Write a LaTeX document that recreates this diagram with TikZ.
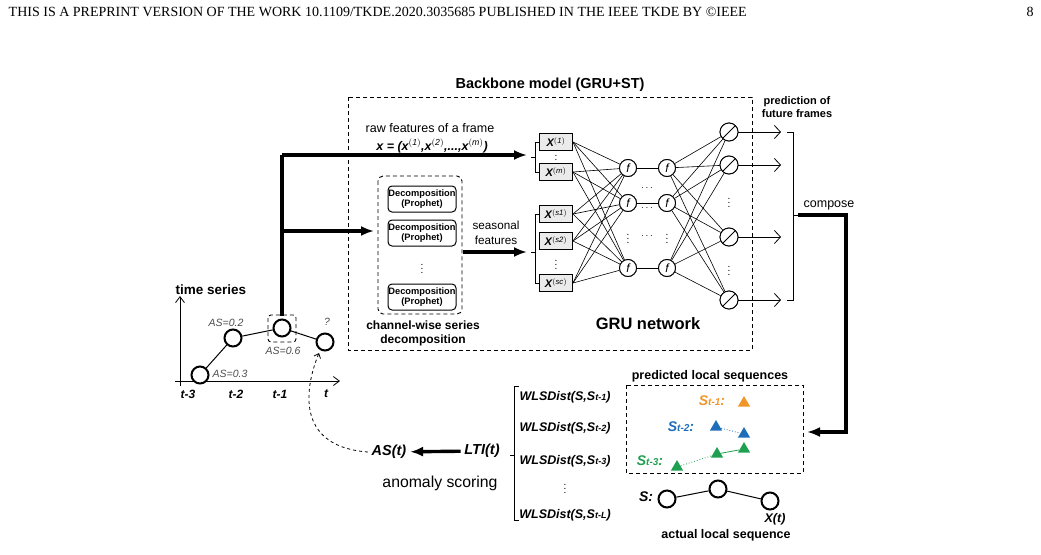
\documentclass[tikz,border=0pt]{standalone}
\usepackage{fontspec}
\setmainfont{Liberation Sans}
\newfontfamily\hdrfont{Liberation Serif}
\usetikzlibrary{arrows.meta,positioning,calc,shapes.geometric}
\definecolor{sorange}{RGB}{240,150,40}
\definecolor{sblue}{RGB}{30,110,185}
\definecolor{sgreen}{RGB}{30,160,80}
\definecolor{inbox}{RGB}{235,235,235}
\newcommand{\fs}[1]{\fontsize{#1}{#1}\selectfont}
\tikzset{
  big/.style={line width=3.4pt,-{Latex[length=13pt,width=10pt]}},
  dbox/.style={draw,dashed,line width=0.9pt,dash pattern=on 4pt off 3pt},
  dec/.style={draw,rounded corners=4pt,line width=1pt,minimum width=68pt,minimum height=26pt,align=center,inner sep=0pt,font=\fs{9.3}\bfseries},
  xin/.style={draw,fill=inbox,line width=0.9pt,minimum width=33pt,minimum height=17pt,inner sep=0pt,font=\fs{11}\bfseries\itshape},
  fnode/.style={draw,circle,line width=0.9pt,minimum size=17pt,inner sep=0pt,fill=white,font=\fs{12}\itshape},
  onode/.style={draw,circle,line width=0.9pt,minimum size=18pt,inner sep=0pt,fill=white,path picture={\draw (path picture bounding box.south west)--(path picture bounding box.north east);}},
  pt/.style={draw,circle,line width=2pt,minimum size=17pt,inner sep=0pt,fill=white},
  tri/.style={regular polygon,regular polygon sides=3,inner sep=0pt,minimum size=14pt},
  wl/.style={font=\fs{12.5}\bfseries\itshape},
  lbl/.style={font=\fs{12.5}\bfseries}
}
\begin{document}
\begin{tikzpicture}[x=1pt,y=-1pt,line width=0.8pt]
\useasboundingbox (0,0) rectangle (1041,554);
\node[anchor=west,font=\hdrfont\fs{14}] at (5,12) {THIS IS A PREPRINT VERSION OF THE WORK 10.1109/TKDE.2020.3035685 PUBLISHED IN THE IEEE TKDE BY \textcopyright IEEE};
\node[font=\hdrfont\fs{14}] at (1030,12) {8};

% backbone
\draw[dbox] (348,97) rectangle (752,350);
\node[font=\fs{14.5}\bfseries] at (550,85) {Backbone model (GRU+ST)};
\node[align=center,font=\fontsize{11}{13}\selectfont\bfseries] at (797,107) {prediction of\\future frames};
\node[font=\fs{12.5}] at (430,128) {raw features of a frame};
\node[font=\fs{12.5}\bfseries\itshape] at (432,146) {x = (x$^{\mathit{(1)}}$,x$^{\mathit{(2)}}$,...,x$^{\mathit{(m)}}$)};

% decomposition
\draw[dbox,rounded corners=5pt] (378,176) rectangle (462,314);
\node[dec] (d1) at (422,199) {Decomposition\\(Prophet)};
\node[dec] (d2) at (422,233) {Decomposition\\(Prophet)};
\node[inner sep=0pt] at (422,266) {$\vdots$};
\node[dec] (d3) at (422,297) {Decomposition\\(Prophet)};
\node[align=center,font=\fontsize{12}{14}\selectfont\bfseries] at (423,333) {channel-wise series\\decomposition};
\node[align=center,font=\fontsize{11.7}{15}\selectfont] at (496,233) {seasonal\\features};

% inputs
\node[xin] (x1) at (556,142) {X$^{\mathit{(1)}}$};
\node[xin] (xm) at (556,172) {X$^{\mathit{(m)}}$};
\node[inner sep=0pt] at (556,157) {$\vdots$};
\node[xin] (s1) at (556,214) {X$^{\mathit{(s1)}}$};
\node[xin] (s2) at (556,241) {X$^{\mathit{(s2)}}$};
\node[inner sep=0pt] at (556,262) {$\vdots$};
\node[xin] (sc) at (556,283) {X$^{\mathit{(sc)}}$};
\draw (539,142)--(535,142)--(535,172)--(539,172) (535,157)--(531,157);
\draw (539,214)--(535,214)--(535,283)--(539,283) (535,252)--(531,252);

% hidden layers
\foreach \n/\y in {1/168,2/203,3/268}{
  \node[fnode] (h\n) at (628,\y) {f};
  \node[fnode] (g\n) at (667,\y) {f};
}
\foreach \n/\y in {1/132,2/165,3/237,4/300}
  \node[onode] (o\n) at (729,\y) {};
\foreach \i in {x1,xm,s1,s2,sc}
  \foreach \n in {1,2,3}
    \draw[line width=0.6pt] (\i.east) -- (h\n);
\foreach \n in {1,2,3}{
  \draw[line width=0.6pt] (h\n) -- (g\n);
  \foreach \m in {1,2,3,4}
    \draw[line width=0.6pt] (g\n) -- (o\m);
}
\foreach \n in {1,2,3}{
  \node[fnode] at (h\n) {f};
  \node[fnode] at (g\n) {f};
}
\foreach \n/\y in {1/132,2/165,3/237,4/300}
  \node[onode] at (729,\y) {};
\begin{scope}[every node/.style={inner sep=0pt}]
\node at (647,188) {$\cdots$};
\node at (647,208) {$\cdots$};
\node at (647,236) {$\cdots$};
\node at (628,236) {$\vdots$};
\node at (667,236) {$\vdots$};
\node at (729,200) {$\vdots$};
\node at (729,268) {$\vdots$};
\end{scope}
\node[font=\fs{16.5}\bfseries] at (648,324) {GRU network};
\foreach \m in {1,2,3,4}{
  \coordinate (e\m) at ($(o\m)+(52,0)$);
  \draw[-{Straight Barb[length=6pt,width=13pt]}] (o\m) -- (e\m);
}
\draw (787,132)--(793,132)--(793,300)--(787,300) (793,215)--(798,215);
\node[font=\fs{12.5}] at (829,205) {compose};

% time series
\draw[-{Straight Barb[length=6pt,width=9pt]}] (180,386) -- (180,296);
\draw[-{Straight Barb[length=6pt,width=9pt]}] (175,381) -- (340,381);
\node[font=\fs{13.5}\bfseries] at (211,290) {time series};
\node[pt] (p3) at (200,375) {};
\node[pt] (p2) at (233,338) {};
\node[pt] (p1) at (282,328) {};
\node[pt] (p0) at (325,342) {};
\draw[line width=1pt] (p3)--(p2)--(p1)--(p0);
\draw[dbox,rounded corners=3pt] (268,315) rectangle (296,342);
\begin{scope}[font=\fs{10.5}\itshape,text=black!70]
\node at (230,374) {AS=0.3};
\node at (226,323) {AS=0.2};
\node at (283,351) {AS=0.6};
\node at (327,322) {?};
\end{scope}
\begin{scope}[font=\fs{12}\bfseries\itshape]
\node at (188,394) {t-3};
\node at (236,394) {t-2};
\node at (280,394) {t-1};
\node at (326,394) {t};
\end{scope}

% main data flow
\coordinate (up) at (282,155);
\coordinate (mid) at (282,231);
\draw[line width=3.4pt] (282,316) -- (up);
\draw[big] (up) -- (527,155);
\draw[big] (mid) -- (374,231);
\draw[big] (463,252) -- (527,252);
\draw[line width=3.6pt,-{Latex[length=13pt,width=10pt]}] (798,215) -- (846,215) -- (846,432) -- (807,432);

% scoring
\node[font=\fs{14.5}\bfseries\itshape] (as) at (389,452) {AS(t)};
\node[font=\fs{14.5}\bfseries\itshape] (lti) at (482,451) {LTI(t)};
\draw[big] (lti) -- (as);
\node[font=\fs{15.8}] at (440,483) {anomaly scoring};
\draw[dashed,-{Straight Barb[length=4pt,width=7pt]}] (as.west) .. controls (300,447) and (302,395) .. (319,353);
\draw (519,386)--(514,386)--(514,520)--(519,520) (514,455)--(510,455);

\node[wl] (w1) at (565,397) {WLSDist(S,S{\fs{9}t-1})};
\node[wl] (w2) at (565,428) {WLSDist(S,S{\fs{9}t-2})};
\node[wl] (w3) at (565,461) {WLSDist(S,S{\fs{9}t-3})};
\node at (565,486) {$\vdots$};
\node[wl] (wl) at (565,515) {WLSDist(S,S{\fs{9}t-L})};

% predicted local sequences
\draw[dbox] (626,385) rectangle (803,473);
\node[lbl] at (710,376) {predicted local sequences};
\node[font=\fs{14}\bfseries\itshape,text=sorange] at (712,401) {S{\fs{10}t-1}:};
\node[tri,fill=sorange] (a1) at (744,403) {};
\node[font=\fs{14}\bfseries\itshape,text=sblue] at (681,427) {S{\fs{10}t-2}:};
\node[tri,fill=sblue] (b1) at (716,427) {};
\node[tri,fill=sblue] (b2) at (744,434) {};
\draw[sblue,dotted,thick] (b1) -- (b2);
\node[font=\fs{14}\bfseries\itshape,text=sgreen] at (650,461) {S{\fs{10}t-3}:};
\node[tri,fill=sgreen] (c1) at (677,467) {};
\node[tri,fill=sgreen] (c2) at (717,454) {};
\node[tri,fill=sgreen] (c3) at (744,449) {};
\draw[sgreen,dotted,thick] (c1) -- (c2);
\draw[sgreen] (c2) -- (c3);

% actual local sequence
\node[font=\fs{14}\bfseries\itshape] at (646,497) {S:};
\node[pt] (q1) at (667,499) {};
\node[pt] (q2) at (718,489) {};
\node[pt] (q3) at (770,501) {};
\draw[line width=1pt] (q1)--(q2)--(q3);
\node[wl] at (775,519) {X(t)};
\node[lbl] at (726,535) {actual local sequence};
\end{tikzpicture}
\end{document}
